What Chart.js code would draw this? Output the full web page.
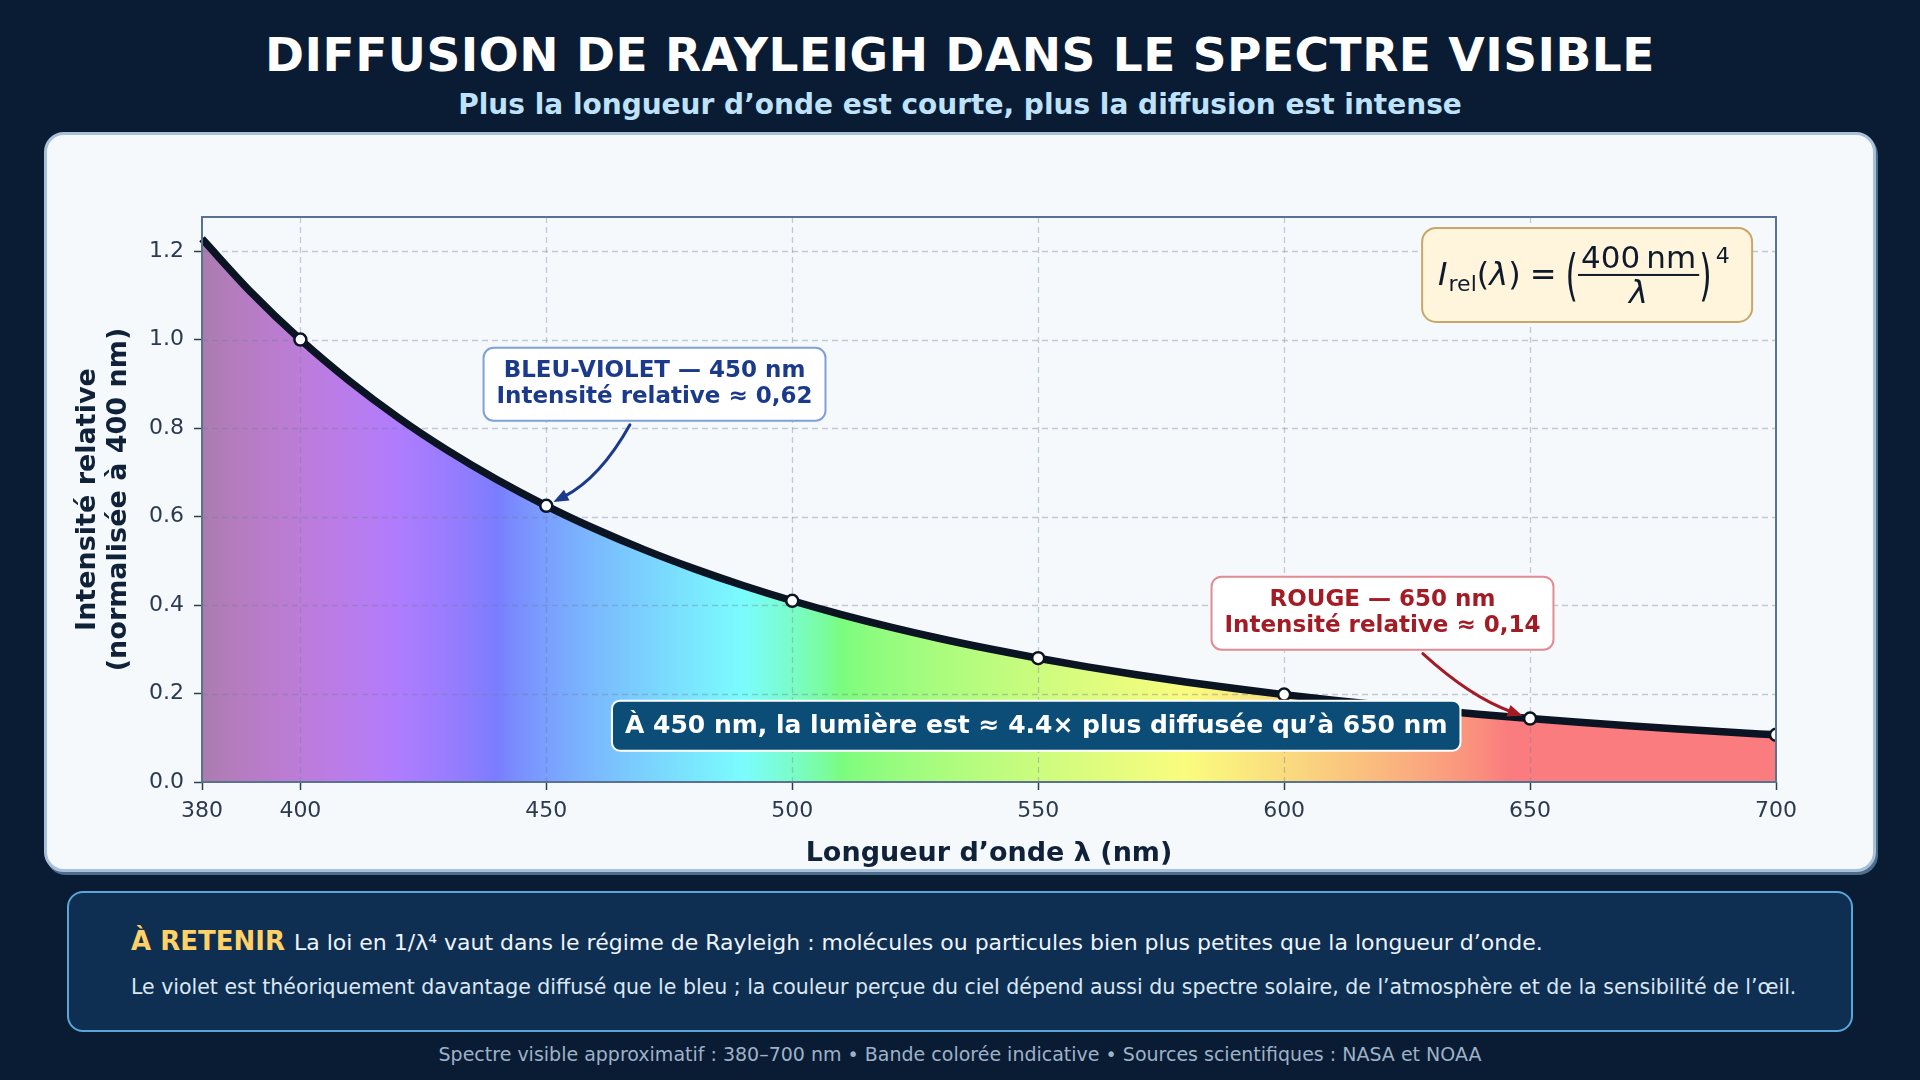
<!DOCTYPE html>
<html lang="fr"><head><meta charset="utf-8">
<script src="https://cdn.jsdelivr.net/npm/chart.js@4.4.1/dist/chart.umd.min.js"></script>
<style>
html,body{margin:0;padding:0;}
body{width:1920px;height:1080px;background:#0a1c34;position:relative;overflow:hidden;font-family:"DejaVu Sans",sans-serif;}
#title{position:absolute;left:0;width:1920px;top:26px;text-align:center;color:#ffffff;font-weight:bold;font-size:47px;line-height:58px;letter-spacing:0.5px;margin:0}
#subtitle{position:absolute;left:0;width:1920px;top:88px;text-align:center;color:#bfe2fb;font-weight:bold;font-size:28px;line-height:34px;margin:0}
#card{position:absolute;left:44px;top:132px;width:1832px;height:740px;box-sizing:border-box;border:3px solid #a8c0d8;border-radius:20px;background:#f5f9fc;box-shadow:2px 3px 0 #4e6d8d}
#chartwrap{position:absolute;left:44px;top:132px;width:1832px;height:740px}
#note{position:absolute;left:67px;top:891px;width:1786px;height:141px;box-sizing:border-box;border:2.5px solid #5aa6d8;border-radius:16px;background:#0e2f52}
#l1{position:absolute;left:62px;top:32px;white-space:nowrap;color:#eef4fb;font-size:22px;line-height:32px}
#l1 b{color:#ffd166;font-size:26px;margin-right:2px}
#l2{position:absolute;left:62px;top:80px;white-space:nowrap;color:#dbe7f3;font-size:20.5px;line-height:28px}
#footer{position:absolute;left:0;width:1920px;top:1041px;text-align:center;color:#9db2c8;font-size:19px;line-height:26px}
</style></head>
<body>
<div id="title">DIFFUSION DE RAYLEIGH DANS LE SPECTRE VISIBLE</div>
<div id="subtitle">Plus la longueur d’onde est courte, plus la diffusion est intense</div>
<div id="card"></div>
<div id="chartwrap"><canvas id="c" width="1832" height="740"></canvas></div>
<div id="note">
  <div id="l1"><b>À RETENIR</b> La loi en 1/λ⁴ vaut dans le régime de Rayleigh : molécules ou particules bien plus petites que la longueur d’onde.</div>
  <div id="l2">Le violet est théoriquement davantage diffusé que le bleu ; la couleur perçue du ciel dépend aussi du spectre solaire, de l’atmosphère et de la sensibilité de l’œil.</div>
</div>
<div id="footer">Spectre visible approximatif : 380–700 nm • Bande colorée indicative • Sources scientifiques : NASA et NOAA</div>
<script>
// ---- data ----
const wavelengths = [380,390,400,410,420,430,440,450,460,470,480,490,500,510,520,530,540,550,560,570,580,590,600,610,620,630,640,650,660,670,680,690,700];
const intensity = [1.2277,1.1066,1.0000,0.9060,0.8227,0.7488,0.6830,0.6243,0.5718,0.5246,0.4823,0.4441,0.4096,0.3784,0.3501,0.3244,0.3011,0.2798,0.2603,0.2425,0.2262,0.2113,0.1975,0.1849,0.1733,0.1625,0.1526,0.1434,0.1349,0.1270,0.1197,0.1129,0.1066];
const markerWavelengths = [400,450,500,550,600,650,700];
const markerIntensity = [1.000,0.6243,0.4096,0.2798,0.1975,0.1434,0.1066];
const xTicks = [380,400,450,500,550,600,650,700];
const yTicks = [0,0.2,0.4,0.6,0.8,1.0,1.2];
const xRange = [380,700];
const yRange = [0,1.277];

const callouts = [
  {lines:['BLEU-VIOLET — 450 nm','Intensité relative ≈ 0,62'], at:[472,0.899], color:'#1b3a8c', border:'#7fa0da', startNm:467, target:1, bend:-0.15},
  {lines:['ROUGE — 650 nm','Intensité relative ≈ 0,14'], at:[620,0.3815], color:'#a31b24', border:'#e08c92', startNm:628.2, target:5, bend:0.1}
];
const bannerText = 'À 450 nm, la lumière est ≈ 4.4× plus diffusée qu’à 650 nm';
const bannerAt = [549.6,0.1273];
const formulaAt = [661.6,1.146];

const FONT = '"DejaVu Sans", sans-serif';

function spectrumRGB(w){
  let r=0,g=0,b=0;
  if(w<440){r=-(w-440)/60;b=1;}
  else if(w<490){g=(w-440)/50;b=1;}
  else if(w<510){g=1;b=-(w-510)/20;}
  else if(w<580){r=(w-510)/70;g=1;}
  else if(w<645){r=1;g=-(w-645)/65;}
  else {r=1;}
  const a = w<420 ? 0.3+0.7*(w-380)/40 : (w>700 ? 0.3+0.7*(780-w)/80 : 1);
  const f=c=>Math.round(255*Math.pow(c*a,0.8));
  return [f(r),f(g),f(b)];
}
function spectrumFill(ctx){
  const chart = ctx.chart;
  if(!chart.chartArea) return 'rgba(0,0,0,0)';
  const sx = chart.scales.x;
  const g = chart.ctx.createLinearGradient(sx.getPixelForValue(xRange[0]),0,sx.getPixelForValue(xRange[1]),0);
  for(let w=xRange[0]; w<=xRange[1]; w+=2){
    const [r,gg,b]=spectrumRGB(w);
    g.addColorStop((w-xRange[0])/(xRange[1]-xRange[0]), `rgba(${r},${gg},${b},0.5)`);
  }
  return g;
}

function rr(ctx,x,y,w,h,r){
  ctx.beginPath();ctx.moveTo(x+r,y);ctx.arcTo(x+w,y,x+w,y+h,r);ctx.arcTo(x+w,y+h,x,y+h,r);ctx.arcTo(x,y+h,x,y,r);ctx.arcTo(x,y,x+w,y,r);ctx.closePath();
}

const overlay = {
  id:'overlay',
  afterDatasetDraw(chart,args){
    if(args.index!==2) return;
    const {ctx,chartArea:a,scales:{x,y}} = chart;
    ctx.save();
    ctx.strokeStyle='rgba(110,125,150,0.38)';
    ctx.lineWidth=1.3;
    ctx.setLineDash([6,4]);
    xTicks.forEach(v=>{ if(v===xRange[0]||v===xRange[1]) return; const px=Math.round(x.getPixelForValue(v))+0.5; ctx.beginPath();ctx.moveTo(px,a.top);ctx.lineTo(px,a.bottom);ctx.stroke();});
    yTicks.forEach(v=>{ if(v===0) return; const py=Math.round(y.getPixelForValue(v))+0.5; ctx.beginPath();ctx.moveTo(a.left,py);ctx.lineTo(a.right,py);ctx.stroke();});
    ctx.restore();
  },
  afterDatasetsDraw(chart){
    const {ctx,chartArea:a,scales:{x,y}} = chart;
    ctx.save();
    // frame
    ctx.strokeStyle='#5a7291';ctx.lineWidth=2;
    ctx.strokeRect(a.left,a.top,a.right-a.left,a.bottom-a.top);
    // callouts
    callouts.forEach(c=>{
      ctx.font=`bold 23px ${FONT}`;
      const tw=Math.max(...c.lines.map(l=>ctx.measureText(l).width));
      const w=tw+26, h=73;
      const cx=x.getPixelForValue(c.at[0]), cy=y.getPixelForValue(c.at[1]);
      const bx=cx-w/2, by=cy-h/2;
      rr(ctx,bx,by,w,h,10);
      ctx.fillStyle='#ffffff';ctx.fill();
      ctx.lineWidth=2;ctx.strokeStyle=c.border;ctx.stroke();
      ctx.fillStyle=c.color;ctx.textAlign='center';ctx.textBaseline='middle';
      ctx.fillText(c.lines[0],cx,cy-13);
      ctx.fillText(c.lines[1],cx,cy+13);
      // arrow
      const sx=x.getPixelForValue(c.startNm), sy=by+h+4;
      const tx=x.getPixelForValue(markerWavelengths[c.target]), ty=y.getPixelForValue(markerIntensity[c.target]);
      const dx=tx-sx, dy=ty-sy;
      const qx=(sx+tx)/2 + (-dy)*c.bend, qy=(sy+ty)/2 + dx*c.bend;
      let ux=tx-qx, uy=ty-qy; const ul=Math.hypot(ux,uy); ux/=ul; uy/=ul;
      const ex=tx-ux*8, ey=ty-uy*8; // tip
      const hl=15, hw=6;
      const bxp=ex-ux*hl, byp=ey-uy*hl;
      ctx.strokeStyle=c.color;ctx.lineWidth=3;ctx.lineCap='round';
      ctx.beginPath();ctx.moveTo(sx,sy);ctx.quadraticCurveTo(qx,qy,bxp+ux*3,byp+uy*3);ctx.stroke();
      ctx.fillStyle=c.color;ctx.beginPath();
      ctx.moveTo(ex,ey);ctx.lineTo(bxp-uy*hw,byp+ux*hw);ctx.lineTo(bxp+uy*hw,byp-ux*hw);ctx.closePath();ctx.fill();
    });
    // banner
    ctx.font=`bold 25px ${FONT}`;
    const bw=ctx.measureText(bannerText).width+26, bh=50;
    const bcx=x.getPixelForValue(bannerAt[0]), bcy=y.getPixelForValue(bannerAt[1]);
    rr(ctx,bcx-bw/2,bcy-bh/2,bw,bh,8);
    ctx.fillStyle='#0b4d77';ctx.fill();ctx.lineWidth=2;ctx.strokeStyle='#ffffff';ctx.stroke();
    ctx.fillStyle='#ffffff';ctx.textAlign='center';ctx.textBaseline='middle';
    ctx.fillText(bannerText,bcx,bcy+1);
    // formula box
    const fw=330, fh=94;
    const fcx=x.getPixelForValue(formulaAt[0]), fcy=y.getPixelForValue(formulaAt[1]);
    const fx=fcx-fw/2, fy=fcy-fh/2;
    rr(ctx,fx,fy,fw,fh,14);
    ctx.fillStyle='#fff4dc';ctx.fill();ctx.lineWidth=2;ctx.strokeStyle='#c8a76a';ctx.stroke();
    ctx.fillStyle='#0f1b2b';ctx.textAlign='left';ctx.textBaseline='alphabetic';
    let px=fx+16; const base=fy+57;
    const put=(t,font,dy=0)=>{ctx.font=font;ctx.fillText(t,px,base+dy);px+=ctx.measureText(t).width;};
    put('I',`italic 32px ${FONT}`);
    px+=1;
    put('rel',`22px ${FONT}`,6);
    put('(',`32px ${FONT}`);
    put('λ',`italic 32px ${FONT}`);
    put(')',`32px ${FONT}`);
    px+=9; put('=',`32px ${FONT}`); px+=9;
    const bar=base-10;
    const bigParen=(t)=>{ctx.save();ctx.font=`32px ${FONT}`;const w=ctx.measureText(t).width;ctx.translate(px,bar);ctx.scale(1,1.75);ctx.fillText(t,0,11);ctx.restore();px+=w;};
    bigParen('(');
    ctx.font=`31px ${FONT}`; const nw=ctx.measureText('400\u2009nm').width;
    const fracW=nw+6;
    ctx.textAlign='center';
    ctx.fillText('400\u2009nm',px+fracW/2,bar-7);
    ctx.font=`italic 32px ${FONT}`;ctx.fillText('λ',px+fracW/2,bar+28);
    ctx.fillRect(px,bar-1,fracW,2);
    ctx.textAlign='left';
    px+=fracW;
    bigParen(')');
    px+=4; put('4',`22px ${FONT}`,-22);
    ctx.restore();
  }
};

const chart = new Chart(document.getElementById('c'),{
  type:'line',
  data:{datasets:[
    {label:'marqueurs',data:markerWavelengths.map((w,i)=>({x:w,y:markerIntensity[i]})),showLine:false,pointRadius:6,pointBackgroundColor:'#ffffff',pointBorderColor:'#0b1422',pointBorderWidth:2.5,clip:0},
    {label:'courbe',data:wavelengths.map((w,i)=>({x:w,y:intensity[i]})),borderColor:'#0b1422',borderWidth:7.5,pointRadius:0,fill:false,cubicInterpolationMode:'monotone',clip:4},
    {label:'spectre',data:wavelengths.map((w,i)=>({x:w,y:intensity[i]})),borderColor:'rgba(255,255,255,0.85)',borderWidth:1.5,pointRadius:0,fill:'origin',backgroundColor:spectrumFill,cubicInterpolationMode:'monotone'}
  ]},
  options:{
    responsive:false,animation:false,devicePixelRatio:1,
    layout:{padding:{left:12,top:85,right:100,bottom:0}},
    plugins:{legend:{display:false},tooltip:{enabled:false}},
    scales:{
      x:{type:'linear',min:xRange[0],max:xRange[1],
        afterBuildTicks:s=>{s.ticks=xTicks.map(v=>({value:v}));},
        afterFit:s=>{s.height=90;},
        ticks:{color:'#2b3a4f',font:{size:22,family:FONT},padding:8,autoSkip:false,maxRotation:0,callback:v=>String(v)},
        grid:{drawOnChartArea:false,drawTicks:true,tickLength:8,tickColor:'#2d3d52',tickWidth:1.5},
        border:{display:false},
        title:{display:true,text:'Longueur d’onde λ (nm)',color:'#10223a',font:{size:27,weight:'bold',family:FONT,lineHeight:1.15},padding:{top:0,bottom:2}}
      },
      y:{type:'linear',min:yRange[0],max:yRange[1],
        afterBuildTicks:s=>{s.ticks=yTicks.map(v=>({value:v}));},
        afterFit:s=>{s.width=146;},
        ticks:{color:'#2b3a4f',font:{size:22,family:FONT},padding:10,callback:v=>Number(v).toFixed(1)},
        grid:{drawOnChartArea:false,drawTicks:true,tickLength:8,tickColor:'#2d3d52',tickWidth:1.5},
        border:{display:false},
        title:{display:true,text:['Intensité relative','(normalisée à 400 nm)'],color:'#10223a',font:{size:27,weight:'bold',family:FONT,lineHeight:1.133},padding:{top:17,bottom:0}}
      }
    }
  },
  plugins:[overlay]
});
</script>
</body></html>
